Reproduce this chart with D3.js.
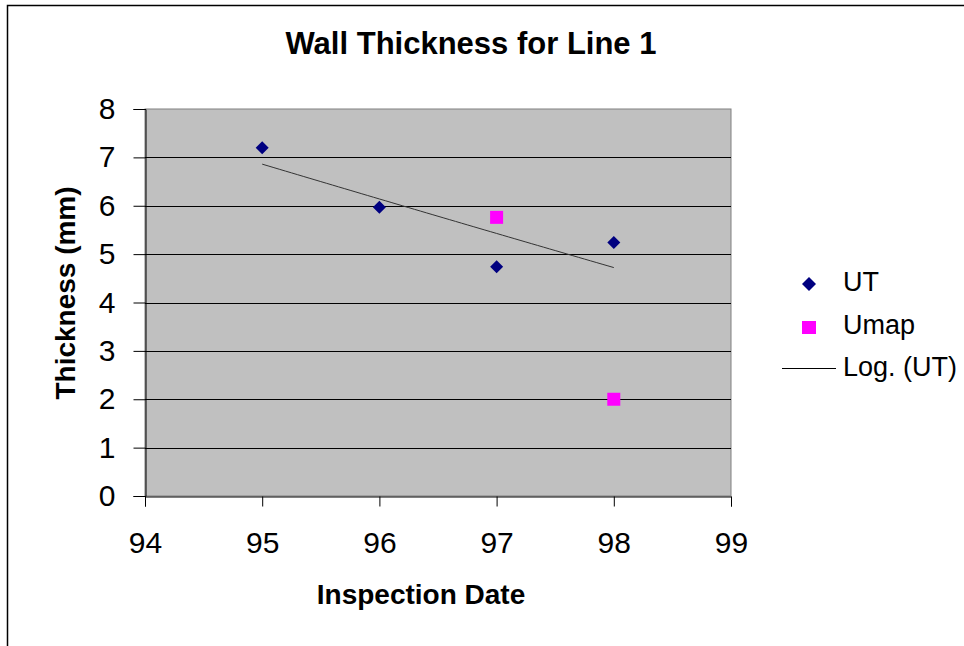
<!DOCTYPE html>
<html>
<head>
<meta charset="utf-8">
<script src="https://cdn.jsdelivr.net/npm/d3@7"></script>
<style>
  html, body { margin: 0; padding: 0; background: #fff; }
  svg { display: block; font-family: "Liberation Sans", Arial, sans-serif; }
</style>
</head>
<body>
<svg id="chart" width="964" height="646"></svg>
<script>
// Inspection years (two-digit) and measured wall thickness in mm
const utYears = [95, 96, 97, 98];
const utThickness = [7.2, 5.97, 4.74, 5.24];
const umapYears = [97, 98];
const umapThickness = [5.76, 2.0];
const xTicks = [94, 95, 96, 97, 98, 99];
const yTicks = [0, 1, 2, 3, 4, 5, 6, 7, 8];

const svg = d3.select("#chart");
const W = 964, H = 646;
const plot = { left: 145, right: 731, top: 109, bottom: 496 };

const x = d3.scaleLinear().domain([94, 99]).range([plot.left, plot.right]);
const y = d3.scaleLinear().domain([0, 8]).range([plot.bottom, plot.top]);

// Chart frame
svg.append("path")
  .attr("d", `M7.5,${H} V5.5 H${W}`)
  .attr("fill", "none").attr("stroke", "#000").attr("stroke-width", 1.5);

// Plot area
svg.append("rect")
  .attr("x", plot.left).attr("y", plot.top)
  .attr("width", plot.right - plot.left).attr("height", plot.bottom - plot.top)
  .attr("fill", "#c0c0c0").attr("stroke", "#808080").attr("stroke-width", 1);

// Horizontal gridlines
svg.append("g").selectAll("line")
  .data(yTicks.filter(d => d > 0 && d < 8))
  .join("line")
  .attr("x1", plot.left).attr("x2", plot.right)
  .attr("y1", d => Math.round(y(d)) + 0.5).attr("y2", d => Math.round(y(d)) + 0.5)
  .attr("stroke", "#000").attr("stroke-width", 1);

// Axes
const yAxis = svg.append("g")
  .attr("transform", `translate(${plot.left + 0.5},0)`)
  .call(d3.axisLeft(y).tickValues(yTicks).tickSize(12).tickPadding(18).tickFormat(d3.format("d")));
const xAxis = svg.append("g")
  .attr("transform", `translate(0,${plot.bottom + 0.5})`)
  .call(d3.axisBottom(x).tickValues(xTicks).tickSize(10).tickPadding(25).tickFormat(d3.format("d")));

[yAxis, xAxis].forEach(g => {
  g.selectAll(".domain").attr("stroke", "#000").attr("stroke-width", 1);
  g.selectAll(".tick line").attr("stroke", "#000");
  g.selectAll(".tick text")
    .attr("fill", "#000")
    .style("font-size", "30px")
    .style("font-family", "'Liberation Sans', Arial, sans-serif");
});
xAxis.selectAll(".tick text").attr("dy", "0.71em");

// Logarithmic trend of the UT readings: y = a·ln(x) + b (least squares)
const lx = utYears.map(Math.log);
const mx = d3.mean(lx), my = d3.mean(utThickness);
const a = d3.sum(lx.map((v, i) => (v - mx) * (utThickness[i] - my))) /
          d3.sum(lx.map(v => (v - mx) * (v - mx)));
const b = my - a * mx;
const trendX = d3.range(0, 61).map(i => 95 + i * 3 / 60);
svg.append("path")
  .datum(trendX)
  .attr("d", d3.line().x(d => x(d)).y(d => y(a * Math.log(d) + b)))
  .attr("fill", "none").attr("stroke", "#333").attr("stroke-width", 1);

// UT markers (diamonds)
const diamond = s => `M0,${-s} L${s},0 L0,${s} L${-s},0 Z`;
svg.append("g").selectAll("path")
  .data(utYears.map((d, i) => [d, utThickness[i]]))
  .join("path")
  .attr("transform", d => `translate(${x(d[0])},${y(d[1])})`)
  .attr("d", diamond(6.5))
  .attr("fill", "#000080");

// Umap markers (squares)
svg.append("g").selectAll("rect")
  .data(umapYears.map((d, i) => [d, umapThickness[i]]))
  .join("rect")
  .attr("x", d => x(d[0]) - 6.5).attr("y", d => y(d[1]) - 6.5)
  .attr("width", 13).attr("height", 13)
  .attr("fill", "#ff00ff");

// Titles
svg.append("text")
  .attr("x", 471).attr("y", 54)
  .attr("text-anchor", "middle")
  .style("font-size", "31px").style("font-weight", "bold")
  .text("Wall Thickness for Line 1");
svg.append("text")
  .attr("transform", "translate(75,293) rotate(-90)")
  .attr("text-anchor", "middle")
  .style("font-size", "28px").style("font-weight", "bold")
  .text("Thickness (mm)");
svg.append("text")
  .attr("x", 421).attr("y", 604)
  .attr("text-anchor", "middle")
  .style("font-size", "28px").style("font-weight", "bold")
  .text("Inspection Date");

// Legend
const legend = svg.append("g");
legend.append("path").attr("transform", "translate(809,284)").attr("d", diamond(7)).attr("fill", "#000080");
legend.append("rect").attr("x", 802).attr("y", 321).attr("width", 14).attr("height", 13).attr("fill", "#ff00ff");
legend.append("line").attr("x1", 782).attr("x2", 836).attr("y1", 368.5).attr("y2", 368.5).attr("stroke", "#000");
const legendItems = ["UT", "Umap", "Log. (UT)"];
legend.selectAll("text")
  .data(legendItems)
  .join("text")
  .attr("x", 843).attr("y", (d, i) => 291 + i * 42.5)
  .style("font-size", "27px")
  .text(d => d);
</script>
</body>
</html>
